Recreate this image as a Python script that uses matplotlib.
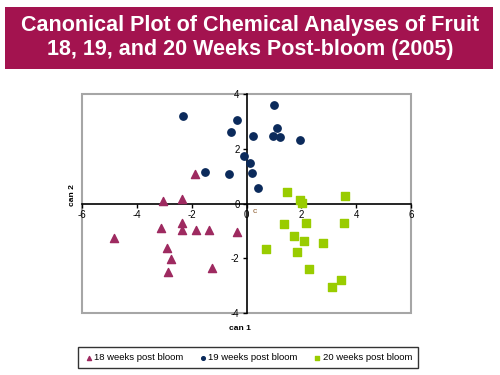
import matplotlib.pyplot as plt
from matplotlib.patches import Rectangle

# canonical scores
wk18_x = [-1.88, -3.03, -2.34, -2.34, -3.13, -2.36, -1.85, -1.37, -0.34, -4.85, -2.91, -2.76, -1.27, -2.87]
wk18_y = [1.09, 0.10, 0.16, -0.73, -0.91, -0.95, -0.97, -0.97, -1.03, -1.27, -1.61, -2.03, -2.36, -2.52]

wk19_x = [-2.31, -0.36, -0.58, -0.10, 0.12, -1.50, -0.65, 1.02, 1.13, 0.25, 0.98, 1.24, 1.94, 0.20, 0.41]
wk19_y = [3.19, 3.05, 2.63, 1.73, 1.48, 1.15, 1.09, 3.60, 2.77, 2.48, 2.46, 2.43, 2.32, 1.13, 0.56]

wk20_x = [1.48, 1.94, 2.01, 3.60, 1.35, 2.16, 3.54, 1.72, 2.11, 2.80, 0.70, 1.84, 2.27, 3.44, 3.11]
wk20_y = [0.41, 0.12, 0.02, 0.28, -0.76, -0.70, -0.70, -1.18, -1.36, -1.43, -1.65, -1.78, -2.40, -2.81, -3.05]

labels = ['18 weeks post bloom', '19 weeks post bloom', '20 weeks post bloom']
x_ticks = [-6, -4, -2, 0, 2, 4, 6]
y_ticks = [-4, -2, 0, 2, 4]

plt.rcParams['font.family'] = ['Liberation Sans', 'DejaVu Sans']
plt.rcParams['axes.unicode_minus'] = False

fig = plt.figure(figsize=(5, 3.75), dpi=100)

# title banner
fig.patches.append(Rectangle((5 / 500, 1 - 69 / 375), 488 / 500, 62 / 375,
                             transform=fig.transFigure, facecolor='#A3134F',
                             edgecolor='none'))
fig.text(0.5, 1 - 25 / 375, 'Canonical Plot of Chemical Analyses of Fruit',
         ha='center', va='center', color='white', fontsize=15.5, fontweight='bold')
fig.text(0.5, 1 - 50 / 375, '18, 19, and 20 Weeks Post-bloom (2005)',
         ha='center', va='center', color='white', fontsize=15.5, fontweight='bold')

ax = fig.add_axes([82 / 500, 1 - 313 / 375, 329 / 500, 219 / 375])
ax.scatter(wk18_x, wk18_y, marker='^', s=34, color='#9E2A60', label=labels[0], zorder=3)
ax.scatter(wk19_x, wk19_y, marker='o', s=28, color='#0B2A5B', label=labels[1], zorder=3)
ax.scatter(wk20_x, wk20_y, marker='s', s=32, color='#99CC00', label=labels[2], zorder=3)

ax.set_xlim(-6, 6)
ax.set_ylim(-4, 4)
ax.set_xticks(x_ticks)
ax.set_yticks(y_ticks)

ax.spines['left'].set_position('zero')
ax.spines['bottom'].set_position('zero')
ax.spines['right'].set_visible(False)
ax.spines['top'].set_visible(False)
for s in ('left', 'bottom'):
    ax.spines[s].set_linewidth(1.2)
ax.tick_params(direction='out', length=3, width=1, labelsize=7, pad=2)
ax.add_patch(Rectangle((0, 0), 1, 1, transform=ax.transAxes, fill=False,
                       edgecolor='#A6A6A6', lw=1.5, clip_on=False, zorder=0))

ax.text(0.3, -0.3, 'c', fontsize=6, color='#8B5A2B', ha='center', va='center')

fig.text(240 / 500, 1 - 328 / 375, 'can 1', fontsize=6, fontweight='bold',
         ha='center', va='center')
fig.text(72 / 500, 1 - 195 / 375, 'can 2', fontsize=6, fontweight='bold',
         ha='center', va='center', rotation=90)

leg = fig.legend(loc='center', ncol=3, fontsize=6.8, frameon=True, fancybox=False,
                 bbox_to_anchor=(80 / 500, 1 - 369 / 375, 336 / 500, 23 / 375),
                 markerscale=0.5, handletextpad=0.05, columnspacing=1.6,
                 handlelength=1.0, borderpad=0.6)
leg.get_frame().set_edgecolor('black')
leg.get_frame().set_linewidth(1.0)

fig.savefig('out.png', dpi=100)
